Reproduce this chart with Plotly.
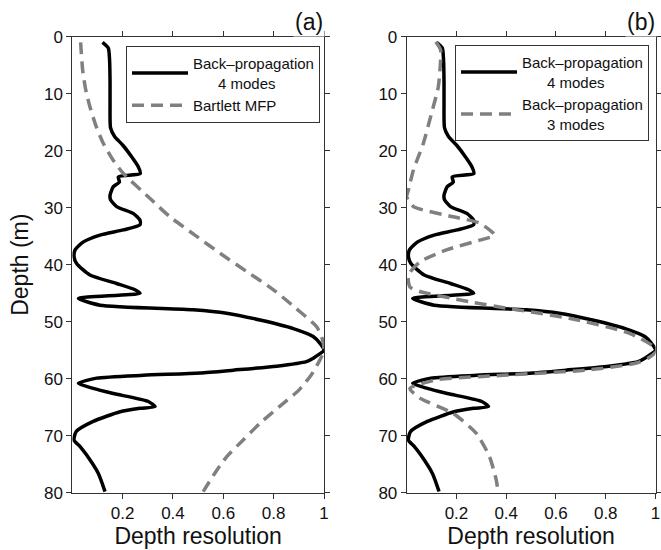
import plotly.graph_objects as go

# Back-propagation, 4 modes (same curve in both panels)
bp4_depth = [1, 2, 4, 8, 12, 16, 17.5, 19, 21, 22.8, 24, 24.6, 25.5, 26.3, 27.8, 28.6,
             29.8, 31, 32.2, 33, 33.9, 34.8, 36, 37.4, 38.6, 39.8, 41.8, 43.3, 44.4, 45,
             45.9, 47.1, 47.9, 48.5, 49.7, 51.2, 52.6, 53.8, 55, 56.4, 57, 57.8, 58.5,
             59, 59.4, 59.9, 60.8, 61.7, 62.6, 64, 64.9, 65.2, 65.8, 67.5, 69.3, 70.8,
             71.9, 73.4, 76.6, 79.8]
bp4_res = [0.12, 0.143, 0.148, 0.15, 0.15, 0.152, 0.168, 0.2, 0.235, 0.262, 0.27, 0.183,
           0.187, 0.163, 0.15, 0.152, 0.176, 0.242, 0.269, 0.269, 0.203, 0.11, 0.044,
           0.011, 0.007, 0.017, 0.07, 0.176, 0.249, 0.269, 0.024, 0.11, 0.48, 0.613,
           0.746, 0.878, 0.957, 0.984, 1.0, 0.957, 0.93, 0.812, 0.64, 0.507, 0.282,
           0.097, 0.024, 0.083, 0.163, 0.302, 0.329, 0.269, 0.19, 0.083, 0.015, 0.007,
           0.031, 0.057, 0.103, 0.13]

# Bartlett MFP (panel a)
mfp_depth = [1, 3, 5.8, 9, 12.3, 15.5, 18.7, 21.5, 24, 28.4, 31.6, 34.8, 38, 41.2, 44.4,
             47.7, 50.9, 53, 55, 56.7, 59.3, 62, 65, 67.8, 70.8, 73.7, 76.8, 79.8]
mfp_res = [0.033, 0.036, 0.041, 0.052, 0.07, 0.093, 0.123, 0.16, 0.203, 0.309, 0.388,
           0.487, 0.587, 0.693, 0.799, 0.89, 0.971, 0.993, 1.0, 0.984, 0.95, 0.9, 0.82,
           0.746, 0.678, 0.613, 0.563, 0.52]

# Back-propagation, 3 modes (panel b)
bp3_depth = [0.9, 2.3, 5, 8.8, 13.4, 18.7, 23.4, 26.9, 28.1, 29.8, 31.6, 32.7, 34.8, 35.7,
             37.4, 39.5, 41.8, 43.9, 44.7, 46.5, 47.7, 49.4, 52, 54.4, 55.3, 56.4, 57.3,
             58.5, 59.4, 60.2, 61.7, 63.4, 66.1, 69.6, 73.7, 77.8, 79.8]
bp3_res = [0.117, 0.136, 0.135, 0.127, 0.1, 0.067, 0.027, 0.007, 0.0, 0.027, 0.187, 0.293,
           0.353, 0.293, 0.16, 0.053, 0.007, 0.013, 0.053, 0.253, 0.413, 0.653, 0.893,
           0.993, 1.0, 0.97, 0.92, 0.72, 0.387, 0.12, 0.013, 0.053, 0.187, 0.28, 0.333,
           0.36, 0.367]

x_ticks = [0.2, 0.4, 0.6, 0.8, 1]
x_ticktext = ['0.2', '0.4', '0.6', '0.8', '1']
y_ticks = [0, 10, 20, 30, 40, 50, 60, 70, 80]

W, H = 661, 550
FONT = 'Liberation Sans, Arial, sans-serif'
GRAY = '#808080'
NB = '\u00a0'

name_bp4 = 'Back\u2013propagation<br>' + NB * 6 + '4 modes'
name_bp3 = 'Back\u2013propagation<br>' + NB * 6 + '3 modes'

solid = dict(color='black', width=3.5, shape='spline', smoothing=0.6)
dashed = dict(color=GRAY, width=3.5, dash='12px,7px', shape='spline', smoothing=0.6)

fig = go.Figure()

# panel (a)
fig.add_trace(go.Scatter(x=bp4_res, y=bp4_depth, mode='lines', name=name_bp4,
                         line=solid, xaxis='x', yaxis='y', legend='legend'))
fig.add_trace(go.Scatter(x=mfp_res, y=mfp_depth, mode='lines', name='Bartlett MFP',
                         line=dashed, xaxis='x', yaxis='y', legend='legend'))
# panel (b)
fig.add_trace(go.Scatter(x=bp4_res, y=bp4_depth, mode='lines', name=name_bp4,
                         line=solid, xaxis='x2', yaxis='y2', legend='legend2'))
fig.add_trace(go.Scatter(x=bp3_res, y=bp3_depth, mode='lines', name=name_bp3,
                         line=dashed, xaxis='x2', yaxis='y2', legend='legend2'))

ydom = [1 - 492.7 / H, 1 - 36.7 / H]

def xax(dom):
    return dict(domain=dom, range=[0, 1], tickvals=x_ticks, ticktext=x_ticktext,
                ticks='outside', ticklen=5, tickcolor='#333', showline=True,
                linecolor='#333', linewidth=1, mirror='ticks', showgrid=False,
                zeroline=False, tickfont=dict(size=17, color='#111'), automargin=False,
                title=dict(text='Depth resolution', font=dict(size=23, color='#111'),
                           standoff=4))

def yax(anchor, title):
    d = dict(domain=ydom, range=[80, 0], tickvals=y_ticks, ticks='outside', ticklen=5,
             tickcolor='#333', showline=True, linecolor='#333', linewidth=1,
             mirror='ticks', showgrid=False, zeroline=False, anchor=anchor,
             automargin=False, tickfont=dict(size=17, color='#111'))
    if title:
        d['title'] = dict(text=title, font=dict(size=23, color='#111'), standoff=8)
    return d

leg = dict(bgcolor='white', bordercolor='#333', borderwidth=1,
           font=dict(size=15, color='#111', family=FONT), xanchor='right',
           yanchor='top', itemwidth=56, tracegroupgap=0, valign='middle')

fig.update_layout(
    width=W, height=H,
    margin=dict(l=0, r=0, t=0, b=0, autoexpand=False),
    paper_bgcolor='white', plot_bgcolor='white',
    font=dict(family=FONT, color='#111'),
    xaxis=xax([72.3 / W, 324 / W]) | dict(anchor='y'),
    yaxis=yax('x', 'Depth (m)'),
    xaxis2=xax([406.7 / W, 655.5 / W]) | dict(anchor='y2'),
    yaxis2=yax('x2', None),
    legend=leg | dict(x=320 / W, y=1 - 46 / H),
    legend2=leg | dict(x=649 / W, y=1 - 45 / H),
    annotations=[
        dict(text='(a)', x=309 / W, y=1 - 22 / H, xref='paper', yref='paper',
             xanchor='center', yanchor='middle', showarrow=False,
             font=dict(size=23, color='#111'), bgcolor='white'),
        dict(text='(b)', x=641 / W, y=1 - 22 / H, xref='paper', yref='paper',
             xanchor='center', yanchor='middle', showarrow=False,
             font=dict(size=23, color='#111'), bgcolor='white'),
    ],
)

fig.write_html('out.html', config={'displayModeBar': False},
               post_script="document.body.style.margin='0';")
